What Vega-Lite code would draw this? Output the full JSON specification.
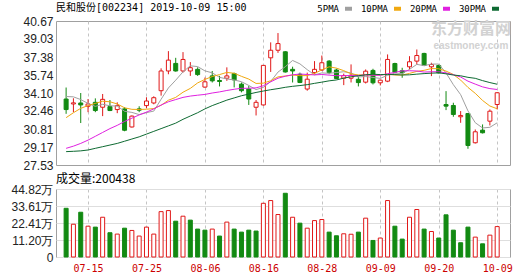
{
  "$schema": "https://vega.github.io/schema/vega-lite/v6.json",
  "padding": {"left": 5, "top": 2, "right": 5, "bottom": 0},
  "background": "#ffffff",
  "config": {
    "view": {"stroke": "#a0a0a0", "strokeWidth": 1},
    "axis": {"ticks": false, "domain": false, "title": null, "labelFont": "Liberation Sans", "labelFontSize": 12, "labelColor": "#222222", "gridColor": "#dedede", "gridWidth": 1, "labelOverlap": false},
    "axisX": {"gridDash": [3, 3], "gridColor": "#c4c4c4"},
    "axisY": {"labelPadding": 3, "minExtent": 50, "maxExtent": 50},
    "title": {"fontWeight": "normal", "color": "#000000", "anchor": "start", "frame": "group"}
  },
  "datasets": {
    "k": [
      {"i":0,"d":"07-10","o":33.55,"h":34.60,"l":32.20,"c":32.59,"v":321000,"vu":false,"5PMA":33.78,"10PMA":31.85,"20PMA":29.05,"30PMA":28.75},
      {"i":1,"d":"07-11","o":33.10,"h":33.62,"l":32.35,"c":33.20,"v":216000,"vu":true,"5PMA":33.75,"10PMA":32.30,"20PMA":29.25,"30PMA":28.78},
      {"i":2,"d":"07-12","o":33.19,"h":34.10,"l":31.36,"c":33.01,"v":295000,"vu":false,"5PMA":33.50,"10PMA":32.70,"20PMA":29.50,"30PMA":28.82},
      {"i":3,"d":"07-15","o":32.89,"h":33.55,"l":32.35,"c":33.10,"v":203000,"vu":true,"5PMA":33.15,"10PMA":32.95,"20PMA":29.80,"30PMA":28.90},
      {"i":4,"d":"07-16","o":33.25,"h":33.61,"l":32.35,"c":32.50,"v":197000,"vu":false,"5PMA":32.88,"10PMA":33.15,"20PMA":30.15,"30PMA":29.05},
      {"i":5,"d":"07-17","o":32.80,"h":34.01,"l":31.99,"c":33.52,"v":262000,"vu":true,"5PMA":33.07,"10PMA":33.35,"20PMA":30.50,"30PMA":29.20},
      {"i":6,"d":"07-18","o":32.86,"h":33.46,"l":32.45,"c":32.50,"v":160000,"vu":false,"5PMA":32.93,"10PMA":33.30,"20PMA":30.85,"30PMA":29.35},
      {"i":7,"d":"07-19","o":32.59,"h":33.25,"l":32.26,"c":32.95,"v":151000,"vu":true,"5PMA":32.91,"10PMA":33.10,"20PMA":31.15,"30PMA":29.50},
      {"i":8,"d":"07-22","o":32.65,"h":32.80,"l":30.61,"c":30.70,"v":190000,"vu":false,"5PMA":32.43,"10PMA":32.75,"20PMA":31.50,"30PMA":29.70},
      {"i":9,"d":"07-23","o":31.00,"h":32.05,"l":30.95,"c":31.99,"v":175000,"vu":true,"5PMA":32.33,"10PMA":32.61,"20PMA":31.80,"30PMA":29.90},
      {"i":10,"d":"07-24","o":32.65,"h":32.89,"l":32.35,"c":32.53,"v":138000,"vu":true,"5PMA":32.13,"10PMA":32.60,"20PMA":32.10,"30PMA":30.10},
      {"i":11,"d":"07-25","o":32.95,"h":33.71,"l":32.71,"c":33.37,"v":197000,"vu":true,"5PMA":32.31,"10PMA":32.62,"20PMA":32.35,"30PMA":30.35},
      {"i":12,"d":"07-26","o":33.19,"h":33.80,"l":33.07,"c":33.67,"v":151000,"vu":true,"5PMA":32.45,"10PMA":32.68,"20PMA":32.65,"30PMA":30.60},
      {"i":13,"d":"07-29","o":34.31,"h":36.35,"l":33.86,"c":36.11,"v":299000,"vu":true,"5PMA":33.53,"10PMA":32.98,"20PMA":33.00,"30PMA":30.85},
      {"i":14,"d":"07-30","o":36.11,"h":37.92,"l":35.81,"c":37.10,"v":306000,"vu":true,"5PMA":34.56,"10PMA":33.44,"20PMA":33.30,"30PMA":31.10},
      {"i":15,"d":"07-31","o":36.80,"h":37.31,"l":36.05,"c":36.11,"v":236000,"vu":false,"5PMA":35.27,"10PMA":33.70,"20PMA":33.50,"30PMA":31.35},
      {"i":16,"d":"08-01","o":36.11,"h":37.83,"l":35.96,"c":37.16,"v":269000,"vu":true,"5PMA":36.03,"10PMA":34.17,"20PMA":33.70,"30PMA":31.70},
      {"i":17,"d":"08-02","o":36.11,"h":36.92,"l":35.66,"c":36.41,"v":243000,"vu":false,"5PMA":36.58,"10PMA":34.52,"20PMA":33.82,"30PMA":32.00},
      {"i":18,"d":"08-05","o":36.26,"h":36.44,"l":35.66,"c":35.78,"v":184000,"vu":false,"5PMA":36.51,"10PMA":35.02,"20PMA":33.90,"30PMA":32.30},
      {"i":19,"d":"08-06","o":34.64,"h":35.51,"l":34.58,"c":35.12,"v":177000,"vu":false,"5PMA":36.12,"10PMA":35.34,"20PMA":33.97,"30PMA":32.65},
      {"i":20,"d":"08-07","o":35.66,"h":36.11,"l":35.06,"c":35.21,"v":184000,"vu":true,"5PMA":35.94,"10PMA":35.60,"20PMA":34.10,"30PMA":32.95},
      {"i":21,"d":"08-08","o":35.24,"h":35.66,"l":34.70,"c":35.15,"v":138000,"vu":false,"5PMA":35.53,"10PMA":35.78,"20PMA":34.20,"30PMA":33.20},
      {"i":22,"d":"08-09","o":35.45,"h":36.44,"l":35.21,"c":35.66,"v":230000,"vu":true,"5PMA":35.38,"10PMA":35.98,"20PMA":34.33,"30PMA":33.45},
      {"i":23,"d":"08-12","o":35.87,"h":35.96,"l":34.61,"c":35.30,"v":184000,"vu":false,"5PMA":35.29,"10PMA":35.90,"20PMA":34.44,"30PMA":33.65},
      {"i":24,"d":"08-13","o":34.91,"h":35.06,"l":34.16,"c":34.31,"v":164000,"vu":false,"5PMA":35.13,"10PMA":35.62,"20PMA":34.53,"30PMA":33.85},
      {"i":25,"d":"08-14","o":34.46,"h":34.76,"l":33.01,"c":33.55,"v":177000,"vu":false,"5PMA":34.79,"10PMA":35.37,"20PMA":34.53,"30PMA":34.00},
      {"i":26,"d":"08-15","o":32.80,"h":33.46,"l":32.05,"c":33.25,"v":171000,"vu":false,"5PMA":34.41,"10PMA":34.97,"20PMA":34.57,"30PMA":34.15},
      {"i":27,"d":"08-16","o":33.01,"h":36.65,"l":32.95,"c":36.62,"v":354000,"vu":true,"5PMA":34.61,"10PMA":35.00,"20PMA":34.76,"30PMA":34.28},
      {"i":28,"d":"08-19","o":37.31,"h":38.72,"l":36.02,"c":38.00,"v":372000,"vu":true,"5PMA":35.15,"10PMA":35.22,"20PMA":35.12,"30PMA":34.40},
      {"i":29,"d":"08-20","o":38.00,"h":39.57,"l":37.76,"c":38.61,"v":280000,"vu":true,"5PMA":36.01,"10PMA":35.57,"20PMA":35.45,"30PMA":34.50},
      {"i":30,"d":"08-21","o":37.86,"h":37.92,"l":35.96,"c":36.02,"v":420000,"vu":false,"5PMA":36.50,"10PMA":35.65,"20PMA":35.63,"30PMA":34.62},
      {"i":31,"d":"08-22","o":36.26,"h":36.50,"l":35.06,"c":36.11,"v":262000,"vu":true,"5PMA":37.07,"10PMA":35.74,"20PMA":35.76,"30PMA":34.71},
      {"i":32,"d":"08-23","o":35.81,"h":35.96,"l":35.00,"c":35.06,"v":223000,"vu":false,"5PMA":36.76,"10PMA":35.68,"20PMA":35.83,"30PMA":34.78},
      {"i":33,"d":"08-26","o":34.46,"h":35.96,"l":34.31,"c":35.36,"v":190000,"vu":true,"5PMA":36.23,"10PMA":35.69,"20PMA":35.79,"30PMA":34.86},
      {"i":34,"d":"08-27","o":35.96,"h":37.01,"l":35.81,"c":36.26,"v":240000,"vu":true,"5PMA":35.76,"10PMA":35.88,"20PMA":35.75,"30PMA":34.98},
      {"i":35,"d":"08-28","o":36.20,"h":37.52,"l":36.11,"c":36.86,"v":247000,"vu":true,"5PMA":35.93,"10PMA":36.22,"20PMA":35.79,"30PMA":35.09},
      {"i":36,"d":"08-29","o":37.01,"h":37.10,"l":35.81,"c":35.96,"v":164000,"vu":false,"5PMA":35.90,"10PMA":36.49,"20PMA":35.73,"30PMA":35.21},
      {"i":37,"d":"08-30","o":36.20,"h":36.32,"l":35.36,"c":35.42,"v":140000,"vu":false,"5PMA":35.97,"10PMA":36.37,"20PMA":35.68,"30PMA":35.29},
      {"i":38,"d":"09-02","o":35.45,"h":35.87,"l":34.82,"c":35.69,"v":153000,"vu":true,"5PMA":36.04,"10PMA":36.14,"20PMA":35.68,"30PMA":35.46},
      {"i":39,"d":"09-03","o":35.45,"h":36.71,"l":35.06,"c":35.72,"v":150000,"vu":true,"5PMA":35.93,"10PMA":35.85,"20PMA":35.70,"30PMA":35.58},
      {"i":40,"d":"09-04","o":35.35,"h":35.60,"l":34.70,"c":35.05,"v":164000,"vu":false,"5PMA":35.57,"10PMA":35.75,"20PMA":35.70,"30PMA":35.67},
      {"i":41,"d":"09-05","o":35.09,"h":36.25,"l":34.97,"c":36.09,"v":256000,"vu":true,"5PMA":35.60,"10PMA":35.75,"20PMA":35.75,"30PMA":35.76},
      {"i":42,"d":"09-06","o":36.16,"h":36.31,"l":34.88,"c":35.03,"v":109000,"vu":false,"5PMA":35.52,"10PMA":35.75,"20PMA":35.72,"30PMA":35.81},
      {"i":43,"d":"09-09","o":35.03,"h":35.33,"l":34.79,"c":35.27,"v":125000,"vu":true,"5PMA":35.43,"10PMA":35.74,"20PMA":35.72,"30PMA":35.78},
      {"i":44,"d":"09-10","o":35.18,"h":37.62,"l":35.09,"c":37.16,"v":372000,"vu":true,"5PMA":35.72,"10PMA":35.83,"20PMA":35.86,"30PMA":35.78},
      {"i":45,"d":"09-11","o":36.79,"h":36.86,"l":35.94,"c":36.00,"v":203000,"vu":false,"5PMA":35.91,"10PMA":35.74,"20PMA":35.98,"30PMA":35.78},
      {"i":46,"d":"09-12","o":36.13,"h":36.40,"l":35.49,"c":35.94,"v":118000,"vu":false,"5PMA":35.88,"10PMA":35.74,"20PMA":36.12,"30PMA":35.74},
      {"i":47,"d":"09-16","o":36.49,"h":37.46,"l":36.25,"c":36.95,"v":262000,"vu":true,"5PMA":36.26,"10PMA":35.89,"20PMA":36.13,"30PMA":35.76},
      {"i":48,"d":"09-17","o":37.01,"h":38.07,"l":36.70,"c":37.52,"v":313000,"vu":true,"5PMA":36.71,"10PMA":36.07,"20PMA":36.11,"30PMA":35.82},
      {"i":49,"d":"09-18","o":37.71,"h":37.77,"l":36.55,"c":36.61,"v":184000,"vu":false,"5PMA":36.60,"10PMA":36.17,"20PMA":36.01,"30PMA":35.87},
      {"i":50,"d":"09-19","o":36.49,"h":36.86,"l":35.64,"c":36.70,"v":168000,"vu":true,"5PMA":36.74,"10PMA":36.33,"20PMA":36.04,"30PMA":35.91},
      {"i":51,"d":"09-20","o":36.61,"h":36.70,"l":35.88,"c":35.94,"v":125000,"vu":false,"5PMA":36.74,"10PMA":36.31,"20PMA":36.04,"30PMA":35.94},
      {"i":52,"d":"09-23","o":33.05,"h":34.27,"l":32.54,"c":32.90,"v":278000,"vu":false,"5PMA":35.93,"10PMA":36.10,"20PMA":35.93,"30PMA":35.85},
      {"i":53,"d":"09-24","o":32.96,"h":33.21,"l":31.93,"c":32.14,"v":177000,"vu":false,"5PMA":34.86,"10PMA":35.79,"20PMA":35.77,"30PMA":35.74},
      {"i":54,"d":"09-25","o":31.93,"h":32.45,"l":31.38,"c":32.05,"v":94000,"vu":false,"5PMA":33.95,"10PMA":35.28,"20PMA":35.56,"30PMA":35.67},
      {"i":55,"d":"09-26","o":32.23,"h":32.23,"l":29.01,"c":29.31,"v":197000,"vu":false,"5PMA":32.47,"10PMA":34.61,"20PMA":35.18,"30PMA":35.53},
      {"i":56,"d":"09-27","o":29.56,"h":30.77,"l":29.49,"c":30.56,"v":131000,"vu":true,"5PMA":31.39,"10PMA":34.07,"20PMA":34.91,"30PMA":35.44},
      {"i":57,"d":"09-30","o":30.71,"h":31.23,"l":30.41,"c":30.47,"v":87000,"vu":false,"5PMA":30.91,"10PMA":33.42,"20PMA":34.66,"30PMA":35.23},
      {"i":58,"d":"10-08","o":31.53,"h":32.60,"l":31.14,"c":32.44,"v":144000,"vu":true,"5PMA":30.97,"10PMA":32.91,"20PMA":34.50,"30PMA":35.05},
      {"i":59,"d":"10-09","o":33.05,"h":34.18,"l":32.60,"c":34.12,"v":200438,"vu":true,"5PMA":31.38,"10PMA":32.66,"20PMA":34.42,"30PMA":34.90}
    ]
  },
  "resolve": {"scale": {"color": "independent"}, "legend": {"color": "independent"}},
  "spacing": 0,
  "vconcat": [
    {
      "width": 454,
      "height": 144,
      "data": {"name": "k"},
      "title": {"text": "民和股份[002234] 2019-10-09 15:00", "font": "DejaVu Sans Mono, Noto Sans CJK SC", "fontSize": 10, "offset": -9.5},
      "layer": [
        {
          "data": {"values": [{"w": "东方财富网"}]},
          "mark": {"type": "text", "font": "Noto Sans CJK SC", "fontSize": 16, "fontWeight": "bold", "color": "#d2d2d2"},
          "encoding": {"text": {"field": "w"},
            "x": {"datum": 55.4, "type": "quantitative", "scale": {"domain": [-0.7, 60.07], "nice": false, "zero": false},
                  "axis": {"values": [3, 11, 19, 27, 35, 43, 51, 59], "labels": false, "grid": true, "minExtent": 0, "maxExtent": 0, "labelPadding": 0, "labelOverlap": false}},
            "y": {"datum": 39.92, "type": "quantitative", "scale": {"domain": [27.53, 40.67], "nice": false, "zero": false},
                  "axis": {"values": [27.53, 29.17, 30.81, 32.46, 34.10, 35.74, 37.38, 39.03, 40.67], "format": ".2f", "labelOverlap": false}}}
        },
        {
          "data": {"values": [{"w": "eastmoney.com"}]},
          "mark": {"type": "text", "font": "Liberation Sans", "fontSize": 10, "fontWeight": "bold", "color": "#d2d2d2"},
          "encoding": {"text": {"field": "w"},
            "x": {"datum": 55.4, "type": "quantitative"},
            "y": {"datum": 38.42, "type": "quantitative", "axis": {"values": [27.53, 29.17, 30.81, 32.46, 34.10, 35.74, 37.38, 39.03, 40.67], "format": ".2f", "labelOverlap": false}}}
        },
        {
          "mark": {"type": "rule", "strokeWidth": 1},
          "encoding": {
            "x": {"field": "i", "type": "quantitative"},
            "y": {"field": "l", "type": "quantitative", "axis": {"values": [27.53, 29.17, 30.81, 32.46, 34.10, 35.74, 37.38, 39.03, 40.67], "format": ".2f", "labelOverlap": false}},
            "y2": {"field": "h"},
            "color": {"condition": {"test": "datum.c >= datum.o", "value": "#e01818"}, "value": "#128a12"}
          }
        },
        {
          "mark": {"type": "bar", "size": 4, "strokeWidth": 1},
          "encoding": {
            "x": {"field": "i", "type": "quantitative"},
            "y": {"field": "o", "type": "quantitative", "axis": {"values": [27.53, 29.17, 30.81, 32.46, 34.10, 35.74, 37.38, 39.03, 40.67], "format": ".2f", "labelOverlap": false}},
            "y2": {"field": "c"},
            "fill": {"condition": {"test": "datum.c >= datum.o", "value": "#ffffff"}, "value": "#128a12"},
            "stroke": {"condition": {"test": "datum.c >= datum.o", "value": "#e01818"}, "value": "#128a12"}
          }
        },
        {
          "transform": [{"fold": ["5PMA", "10PMA", "20PMA", "30PMA"], "as": ["ma", "val"]}],
          "mark": {"type": "line", "strokeWidth": 1},
          "encoding": {
            "x": {"field": "i", "type": "quantitative"},
            "y": {"field": "val", "type": "quantitative", "axis": {"values": [27.53, 29.17, 30.81, 32.46, 34.10, 35.74, 37.38, 39.03, 40.67], "format": ".2f", "labelOverlap": false}},
            "color": {"field": "ma", "type": "nominal",
                      "scale": {"domain": ["5PMA", "10PMA", "20PMA", "30PMA"], "range": ["#a0a0a0", "#f0a810", "#e020e0", "#0e6a32"]},
                      "legend": {"orient": "none", "legendX": 287, "legendY": -18, "direction": "horizontal", "title": null,
                                 "symbolType": "stroke", "symbolSize": 49, "symbolStrokeWidth": 4,
                                 "labelFont": "DejaVu Sans Mono", "labelFontSize": 9, "labelColor": "#000000",
                                 "labelAlign": "right", "labelOffset": -15, "columnPadding": 0, "padding": 0}}
          }
        }
      ]
    },
    {
      "width": 454,
      "height": 68,
      "data": {"name": "k"},
      "title": {"text": "成交量:200438", "font": "Noto Sans CJK SC", "fontSize": 12, "offset": -3},
      "mark": {"type": "bar", "size": 4, "strokeWidth": 1},
      "encoding": {
        "x": {"field": "i", "type": "quantitative", "scale": {"domain": [-0.7, 60.07], "nice": false, "zero": false},
              "axis": {"values": [3, 11, 19, 27, 35, 43, 51, 59], "grid": true, "labelColor": "#cc0000", "labelFont": "DejaVu Sans Mono", "labelFontSize": 10, "labelPadding": 6,
                       "labelExpr": "['07-15','07-25','08-06','08-16','08-28','09-09','09-20','10-09'][round((datum.value-3)/8)]"}},
        "y": {"field": "v", "type": "quantitative", "scale": {"domain": [0, 448200], "nice": false},
              "axis": {"values": [0, 112000, 224100, 336100, 448200], "labelOverlap": false, "labelExpr": "datum.value == 0 ? '0' : format(datum.value/10000, '.2f') + '万'"}},
        "fill": {"condition": {"test": "datum.vu", "value": "#ffffff"}, "value": "#128a12"},
        "stroke": {"condition": {"test": "datum.vu", "value": "#e01818"}, "value": "#128a12"}
      }
    }
  ]
}
